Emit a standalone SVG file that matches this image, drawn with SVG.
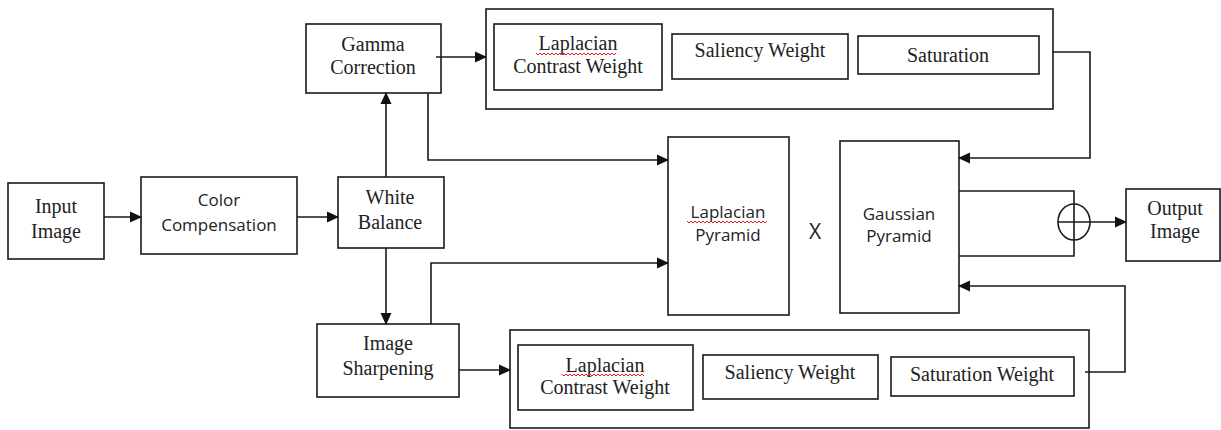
<svg xmlns="http://www.w3.org/2000/svg" width="1221" height="430" viewBox="0 0 1221 430">
<defs>
<marker id="arr" markerUnits="userSpaceOnUse" markerWidth="12" markerHeight="12" viewBox="0 0 12 12" refX="11" refY="6" orient="auto">
<path d="M0,0.5 L12,6 L0,11.5 Z" fill="#111"/>
</marker>
<style>
.box{fill:#fff;stroke:#1a1a1a;stroke-width:1.6}
.ln{fill:none;stroke:#1a1a1a;stroke-width:1.6}
.s{font-family:"Liberation Serif","Times New Roman",serif;font-size:20px;fill:#222;text-anchor:middle}
.a{font-family:"Open Sans","Noto Sans",sans-serif;font-size:17px;fill:#222;text-anchor:middle}
.sq{fill:none;stroke:#e02020;stroke-width:1}
</style>
</defs>
<rect width="1221" height="430" fill="#fff"/>

<g id="input-image">
<rect class="box" x="8" y="183" width="96" height="76"/>
<text class="s" x="56" y="213">Input</text>
<text class="s" x="56" y="238">Image</text>
</g>

<g id="color-compensation">
<rect class="box" x="141" y="177" width="156" height="77"/>
<text class="a" x="219" y="206">Color</text>
<text class="a" x="219" y="231">Compensation</text>
</g>

<g id="white-balance">
<rect class="box" x="338" y="177" width="106" height="71"/>
<text class="s" x="390" y="204">White</text>
<text class="s" x="390" y="229">Balance</text>
</g>

<g id="gamma-correction">
<rect class="box" x="306" y="24" width="135" height="69"/>
<text class="s" x="373" y="51">Gamma</text>
<text class="s" x="373" y="74">Correction</text>
</g>

<g id="image-sharpening">
<rect class="box" x="317" y="324" width="142" height="73"/>
<text class="s" x="388" y="350">Image</text>
<text class="s" x="388" y="375">Sharpening</text>
</g>

<g id="top-weights">
<rect class="box" x="486" y="9" width="567" height="100"/>
<g id="top-laplacian-contrast">
<rect class="box" x="494" y="24" width="168" height="66"/>
<text class="s" x="578" y="50">Laplacian</text>
<path class="sq" d="M536,53 l2,2 l2,-2 l2,2 l2,-2 l2,2 l2,-2 l2,2 l2,-2 l2,2 l2,-2 l2,2 l2,-2 l2,2 l2,-2 l2,2 l2,-2 l2,2 l2,-2 l2,2 l2,-2 l2,2 l2,-2 l2,2 l2,-2 l2,2 l2,-2 l2,2 l2,-2 l2,2 l2,-2 l2,2 l2,-2 l2,2 l2,-2 l2,2 l2,-2 l2,2 l2,-2 l2,2 l2,-2"/>
<text class="s" x="578" y="73">Contrast Weight</text>
</g>
<g id="top-saliency">
<rect class="box" x="672" y="34" width="176" height="45"/>
<text class="s" x="760" y="57">Saliency Weight</text>
</g>
<g id="top-saturation">
<rect class="box" x="858" y="36" width="181" height="38"/>
<text class="s" x="948" y="62">Saturation</text>
</g>
</g>

<g id="laplacian-pyramid">
<rect class="box" x="668" y="137" width="121" height="178"/>
<text class="a" x="728" y="218">Laplacian</text>
<path class="sq" d="M687,221 l2,2 l2,-2 l2,2 l2,-2 l2,2 l2,-2 l2,2 l2,-2 l2,2 l2,-2 l2,2 l2,-2 l2,2 l2,-2 l2,2 l2,-2 l2,2 l2,-2 l2,2 l2,-2 l2,2 l2,-2 l2,2 l2,-2 l2,2 l2,-2 l2,2 l2,-2 l2,2 l2,-2 l2,2 l2,-2 l2,2 l2,-2 l2,2 l2,-2 l2,2 l2,-2 l2,2 l2,-2"/>
<text class="a" x="728" y="241">Pyramid</text>
</g>

<g id="multiply">
<text class="a" x="815" y="239" style="font-size:21px">X</text>
</g>

<g id="gaussian-pyramid">
<rect class="box" x="840" y="141" width="119" height="172"/>
<text class="a" x="899" y="220">Gaussian</text>
<text class="a" x="899" y="242">Pyramid</text>
</g>

<g id="bottom-weights">
<rect class="box" x="510" y="330" width="579" height="98"/>
<g id="bottom-laplacian-contrast">
<rect class="box" x="518" y="345" width="175" height="65"/>
<text class="s" x="605" y="372">Laplacian</text>
<path class="sq" d="M562,374 l2,2 l2,-2 l2,2 l2,-2 l2,2 l2,-2 l2,2 l2,-2 l2,2 l2,-2 l2,2 l2,-2 l2,2 l2,-2 l2,2 l2,-2 l2,2 l2,-2 l2,2 l2,-2 l2,2 l2,-2 l2,2 l2,-2 l2,2 l2,-2 l2,2 l2,-2 l2,2 l2,-2 l2,2 l2,-2 l2,2 l2,-2 l2,2 l2,-2 l2,2 l2,-2 l2,2 l2,-2 l2,2"/>
<text class="s" x="605" y="394">Contrast Weight</text>
</g>
<g id="bottom-saliency">
<rect class="box" x="703" y="355" width="175" height="44"/>
<text class="s" x="790" y="379">Saliency Weight</text>
</g>
<g id="bottom-saturation">
<rect class="box" x="891" y="357" width="183" height="39"/>
<text class="s" x="982" y="381">Saturation Weight</text>
</g>
</g>

<g id="output-image">
<rect class="box" x="1126" y="189" width="94" height="72"/>
<text class="s" x="1175" y="215">Output</text>
<text class="s" x="1175" y="238">Image</text>
</g>

<g id="sum">
<ellipse class="ln" cx="1074" cy="222" rx="16" ry="18"/>
</g>

<g id="connectors">
<path class="ln" d="M104,217 H141" marker-end="url(#arr)"/>
<path class="ln" d="M297,217 H338" marker-end="url(#arr)"/>
<path class="ln" d="M386,177 V93" marker-end="url(#arr)"/>
<path class="ln" d="M386,248 V324" marker-end="url(#arr)"/>
<path class="ln" d="M436,57 H486" marker-end="url(#arr)"/>
<path class="ln" d="M428,93 V160 H668" marker-end="url(#arr)"/>
<path class="ln" d="M431,324 V263 H668" marker-end="url(#arr)"/>
<path class="ln" d="M459,370 H510" marker-end="url(#arr)"/>
<path class="ln" d="M1053,52 H1090 V158 H959" marker-end="url(#arr)"/>
<path class="ln" d="M1085,372 H1125 V286 H959" marker-end="url(#arr)"/>
<path class="ln" d="M959,191 H1074 V256 H959"/>
<path class="ln" d="M1058,222 H1126" marker-end="url(#arr)"/>
</g>
</svg>
